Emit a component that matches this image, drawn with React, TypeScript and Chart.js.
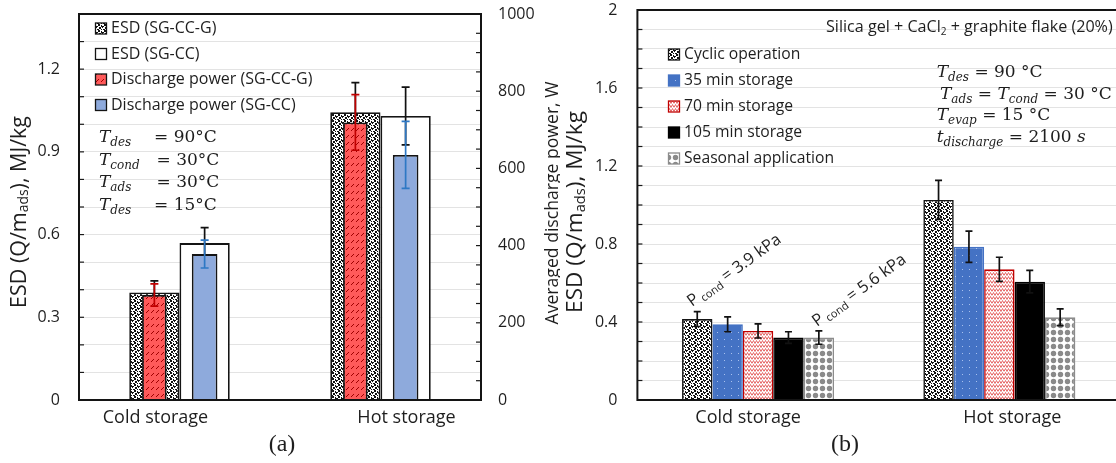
import React, { useEffect, useRef } from 'react';
import { Chart, registerables } from 'chart.js';
Chart.register(...registerables);

// ---------- shared ----------
const categories = ['Cold storage', 'Hot storage'];

// ---------- panel (a) data ----------
const esdSGCCG = [0.39, 1.044];
const esdSGCC = [0.569, 1.03];
const powerSGCCG = [272, 719];
const powerSGCC = [378, 635];
const esdSGCCGErr = [0.042, 0.107];
const esdSGCCErr = [0.056, 0.105];
const powerSGCCGErr = [29, 72];
const powerSGCCErr = [36, 87];
const esdTicksA = ['0', '0.3', '0.6', '0.9', '1.2'];
const powerTicksA = ['0', '200', '400', '600', '800', '1000'];
const condSubsA = ['des', 'cond', 'ads', 'des'];
const condValsA = ['= 90°C', '= 30°C', '= 30°C', '= 15°C'];

// ---------- panel (b) data ----------
const cyclicOp = [0.415, 1.026];
const storage35 = [0.388, 0.786];
const storage70 = [0.354, 0.67];
const storage105 = [0.32, 0.607];
const seasonalApp = [0.32, 0.424];
const cyclicOpErr = [0.038, 0.1];
const storage35Err = [0.038, 0.08];
const storage70Err = [0.036, 0.062];
const storage105Err = [0.03, 0.058];
const seasonalAppErr = [0.034, 0.043];
const esdTicksB = ['0', '0.4', '0.8', '1.2', '1.6', '2'];
const pcondLabels = [' = 3.9 kPa', ' = 5.6 kPa'];
const condRowsB: [string, string][][] = [
  [['T', 'i'], ['des', 's'], [' = 90 °C', 'r']],
  [['T', 'i'], ['ads', 's'], [' = ', 'r'], ['T', 'i'], ['cond', 's'], [' = 30 °C', 'r']],
  [['T', 'i'], ['evap', 's'], [' = 15 °C', 'r']],
  [['t', 'i'], ['discharge', 's'], [' = 2100 ', 'r'], ['s', 'i']],
];

// ---------- styling ----------
const TXT = '#1e1e1e';
const SANS = '"Open Sans"';
const MATH = '"DejaVu Serif"';
const CAPF = '"Liberation Serif"';

const fmt = (v: number) => String(Math.round(v * 1000) / 1000);
const pick = (labels: string[]) => (v: any) => {
  const s = fmt(Number(v));
  return labels.includes(s) ? s : '';
};

type Seg = { t: string; size: number; fam: string; style?: string; dy?: number };
const fontOf = (s: Seg, k = 1) => `${s.style ? s.style + ' ' : ''}${s.size * k}px ${s.fam}`;

function measureSegs(ctx: CanvasRenderingContext2D, segs: Seg[], k = 1) {
  let w = 0;
  segs.forEach((s) => {
    ctx.font = fontOf(s, k);
    w += ctx.measureText(s.t).width;
  });
  return w;
}

function drawRich(ctx: CanvasRenderingContext2D, x: number, y: number, segs: Seg[], align = 'left', target = 0) {
  const k = target ? target / measureSegs(ctx, segs, 1) : 1;
  const w = measureSegs(ctx, segs, k);
  let cx = align === 'center' ? x - w / 2 : align === 'right' ? x - w : x;
  ctx.textAlign = 'left';
  segs.forEach((s) => {
    ctx.font = fontOf(s, k);
    ctx.fillText(s.t, cx, y + (s.dy || 0) * k);
    cx += ctx.measureText(s.t).width;
  });
  return w;
}

function tile(w: number, h: number, draw: (c: CanvasRenderingContext2D) => void) {
  const cv = document.createElement('canvas');
  cv.width = w;
  cv.height = h;
  const c = cv.getContext('2d')!;
  draw(c);
  return c.createPattern(cv, 'repeat')!;
}

function makePatterns() {
  const confetti = tile(6, 6, (c) => {
    c.fillStyle = '#fff';
    c.fillRect(0, 0, 6, 6);
    c.fillStyle = '#111';
    [
      [2, 0, 2, 2], [5, 1, 1, 2], [0, 2, 2, 1], [0, 3, 1, 1],
      [3, 3, 2, 2], [1, 5, 2, 1], [5, 5, 1, 1],
    ].forEach(([x, y, w, h]) => c.fillRect(x, y, w, h));
  });
  const redDash = tile(5, 7, (c) => {
    c.fillStyle = '#ff5a5a';
    c.fillRect(0, 0, 5, 7);
    c.strokeStyle = '#a00000';
    c.lineWidth = 1;
    c.beginPath();
    c.moveTo(1, 5);
    c.lineTo(4, 2);
    c.stroke();
  });
  const blueDots = tile(7, 7, (c) => {
    c.fillStyle = '#4472c4';
    c.fillRect(0, 0, 7, 7);
    c.fillStyle = '#a9c1ee';
    c.fillRect(3, 3, 1, 1);
  });
  const zigzag = tile(6, 4, (c) => {
    c.fillStyle = '#fff';
    c.fillRect(0, 0, 6, 4);
    c.strokeStyle = '#e35a5a';
    c.lineWidth = 0.9;
    c.beginPath();
    c.moveTo(0, 3.5);
    c.lineTo(1.5, 0.5);
    c.lineTo(3, 3.5);
    c.lineTo(4.5, 0.5);
    c.lineTo(6, 3.5);
    c.stroke();
  });
  const grayDots = tile(7, 7, (c) => {
    c.fillStyle = '#fff';
    c.fillRect(0, 0, 7, 7);
    c.fillStyle = '#8a8a8a';
    c.beginPath();
    c.arc(3.5, 3.5, 2.7, 0, Math.PI * 2);
    c.fill();
  });
  return { confetti, redDash, blueDots, zigzag, grayDots };
}

const errorBarPlugin = {
  id: 'errorBars',
  afterDatasetDraw(chart: any, args: any) {
    const ds = chart.data.datasets[args.index];
    if (!ds.errors) return;
    const meta = args.meta;
    const ys = chart.scales[meta.yAxisID];
    const ctx = chart.ctx;
    ctx.save();
    ctx.strokeStyle = ds.errColor;
    ctx.lineWidth = 1.7;
    const cap = ds.errCap || 4;
    meta.data.forEach((bar: any, i: number) => {
      const v = ds.data[i];
      const e = ds.errors[i];
      const x = bar.x;
      const yt = ys.getPixelForValue(v + e);
      const yb = ys.getPixelForValue(v - e);
      ctx.beginPath();
      ctx.moveTo(x, yt);
      ctx.lineTo(x, yb);
      ctx.moveTo(x - cap, yt);
      ctx.lineTo(x + cap, yt);
      ctx.moveTo(x - cap, yb);
      ctx.lineTo(x + cap, yb);
      ctx.stroke();
    });
    ctx.restore();
  },
};

function framePlugin(specs: { id: string; side: string }[]) {
  return {
    id: 'frameTicks',
    afterDatasetsDraw(chart: any) {
      const { ctx, chartArea: a } = chart;
      ctx.save();
      ctx.strokeStyle = '#1a1a1a';
      ctx.lineWidth = 1.2;
      specs.forEach((sp) => {
        const s = chart.scales[sp.id];
        s.ticks.forEach((t: any) => {
          const y = s.getPixelForValue(t.value);
          const x0 = sp.side === 'left' ? a.left : a.right;
          const dir = sp.side === 'left' ? 1 : -1;
          ctx.beginPath();
          ctx.moveTo(x0, y);
          ctx.lineTo(x0 + dir * 5, y);
          ctx.stroke();
        });
      });
      ctx.lineWidth = 2;
      ctx.strokeStyle = '#141414';
      ctx.strokeRect(a.left, a.top, a.right - a.left, a.bottom - a.top);
      ctx.restore();
    },
  };
}

function drawLegend(ctx: any, chart: any, x: number, y0: number, step: number, tx: number, size: number) {
  chart.data.datasets.forEach((ds: any, i: number) => {
    const y = y0 + i * step;
    ctx.fillStyle = ds.backgroundColor;
    ctx.fillRect(x, y - 5.5, 11, 11);
    ctx.strokeStyle = ds.legendBorder || ds.borderColor;
    ctx.lineWidth = 1.3;
    ctx.strokeRect(x, y - 5.5, 11, 11);
    ctx.fillStyle = TXT;
    ctx.font = `${size}px ${SANS}`;
    ctx.textAlign = 'left';
    ctx.textBaseline = 'middle';
    ctx.fillText(ds.label, tx, y);
  });
}

function drawCategoryLabels(ctx: any, chart: any, shifts: number[], y: number) {
  const xs = chart.scales.x;
  ctx.fillStyle = TXT;
  ctx.font = `18px ${SANS}`;
  ctx.textAlign = 'center';
  ctx.textBaseline = 'alphabetic';
  categories.forEach((c, i) => {
    ctx.fillText(c, xs.getPixelForValue(i) + shifts[i], y);
  });
}

function drawRotated(ctx: any, x: number, y: number, segs: Seg[], target: number) {
  ctx.save();
  ctx.translate(x, y);
  ctx.rotate(-Math.PI / 2);
  ctx.textBaseline = 'middle';
  drawRich(ctx, 0, 0, segs, 'center', target);
  ctx.restore();
}

const esdTitle: Seg[] = [
  { t: 'ESD (Q/m', size: 20, fam: SANS },
  { t: 'ads', size: 13, fam: SANS, dy: 4 },
  { t: '), MJ/kg', size: 20, fam: SANS },
];

const decorA = {
  id: 'decorA',
  afterDraw(chart: any) {
    const ctx = chart.ctx;
    ctx.save();
    drawLegend(ctx, chart, 95.5, 28.5, 25.5, 111, 16);
    ctx.fillStyle = TXT;
    ctx.textBaseline = 'alphabetic';
    const eqX = [154, 156.5, 156.5, 154];
    condSubsA.forEach((sub, i) => {
      const y = 142 + i * 22.5;
      drawRich(ctx, 99, y, [
        { t: 'T', size: 17, fam: MATH, style: 'italic' },
        { t: sub, size: 12, fam: MATH, style: 'italic', dy: 4 },
      ]);
      drawRich(ctx, eqX[i], y, [{ t: condValsA[i], size: 17, fam: MATH }]);
    });
    drawCategoryLabels(ctx, chart, [-24, 26], 423);
    ctx.fillStyle = TXT;
    drawRotated(ctx, 20, 212, esdTitle, 192);
    drawRotated(ctx, 553, 203, [{ t: 'Averaged discharge power, W', size: 18, fam: SANS }], 243);
    ctx.textBaseline = 'middle';
    drawRich(ctx, 282, 445, [{ t: '(a)', size: 24, fam: CAPF }], 'center');
    ctx.restore();
  },
};

const decorB = {
  id: 'decorB',
  afterDraw(chart: any) {
    const ctx = chart.ctx;
    ctx.save();
    ctx.fillStyle = TXT;
    ctx.textBaseline = 'alphabetic';
    drawRich(
      ctx,
      266,
      32,
      [
        { t: 'Silica gel + CaCl', size: 16, fam: SANS },
        { t: '2', size: 10, fam: SANS, dy: 3 },
        { t: ' + graphite flake (20%)', size: 16, fam: SANS },
      ],
      'left',
      287
    );
    drawLegend(ctx, chart, 108.5, 54.5, 26, 124, 15.7);
    ctx.fillStyle = TXT;
    ctx.textBaseline = 'alphabetic';
    const rowX = [376.7, 380, 376.7, 376.7];
    condRowsB.forEach((row, i) => {
      const segs: Seg[] = row.map(([t, k]) =>
        k === 'i'
          ? { t, size: 17, fam: MATH, style: 'italic' }
          : k === 's'
          ? { t, size: 12, fam: MATH, style: 'italic', dy: 4 }
          : { t, size: 17, fam: MATH }
      );
      drawRich(ctx, rowX[i], 77 + i * 21.5, segs);
    });
    const anchors = [
      [132, 307],
      [257, 327],
    ];
    anchors.forEach(([x, y], i) => {
      ctx.save();
      ctx.translate(x, y);
      ctx.rotate((-36 * Math.PI) / 180);
      drawRich(ctx, 0, 0, [
        { t: 'P', size: 16.5, fam: SANS },
        { t: ' cond', size: 11, fam: SANS, dy: 3 },
        { t: pcondLabels[i], size: 16.5, fam: SANS },
      ]);
      ctx.restore();
    });
    drawCategoryLabels(ctx, chart, [-10, 13], 423);
    ctx.fillStyle = TXT;
    drawRotated(ctx, 16, 212, esdTitle, 202);
    ctx.textBaseline = 'middle';
    drawRich(ctx, 285, 445, [{ t: '(b)', size: 24, fam: CAPF }], 'center');
    ctx.restore();
  },
};

const tickFont = { family: 'Open Sans', size: 16 };
const noPad = (w: number) => (s: any) => {
  s.width = w;
  s.paddingTop = 0;
  s.paddingBottom = 0;
};

function configA(p: any): any {
  const common = { barPercentage: 1, categoryPercentage: 0.5, borderColor: '#141414', borderWidth: 1.8, errCap: 4 };
  return {
    type: 'bar',
    data: {
      labels: categories,
      datasets: [
        { ...common, label: 'ESD (SG-CC-G)', data: esdSGCCG, errors: esdSGCCGErr, errColor: '#111', yAxisID: 'y', stack: 'g', order: 2, backgroundColor: p.confetti },
        { ...common, label: 'ESD (SG-CC)', data: esdSGCC, errors: esdSGCCErr, errColor: '#111', yAxisID: 'y', stack: 'c', order: 2, backgroundColor: '#ffffff' },
        { ...common, label: 'Discharge power (SG-CC-G)', data: powerSGCCG, errors: powerSGCCGErr, errColor: '#c00000', yAxisID: 'y1', stack: 'g', order: 1, barPercentage: 0.49, backgroundColor: p.redDash },
        { ...common, label: 'Discharge power (SG-CC)', data: powerSGCC, errors: powerSGCCErr, errColor: '#2e78c4', yAxisID: 'y1', stack: 'c', order: 1, barPercentage: 0.51, backgroundColor: '#8eaadc' },
      ],
    },
    options: {
      responsive: false,
      animation: false,
      layout: { padding: { top: 14, left: 0, right: 0, bottom: 0 } },
      plugins: { legend: { display: false }, tooltip: { enabled: false } },
      scales: {
        x: {
          offset: true,
          grid: { display: false },
          border: { display: false },
          ticks: { display: false },
          afterFit: (s: any) => { s.height = 63; },
        },
        y: {
          position: 'left',
          min: 0,
          max: 1.4,
          stacked: false,
          grid: { color: '#e3e3e3', drawTicks: false, lineWidth: 1 },
          border: { display: false },
          ticks: { stepSize: 0.1, autoSkip: false, padding: 19, color: TXT, font: tickFont, callback: pick(esdTicksA) },
          afterFit: noPad(79),
        },
        y1: {
          position: 'right',
          min: 0,
          max: 1000,
          stacked: false,
          grid: { drawOnChartArea: false, drawTicks: false },
          border: { display: false },
          ticks: { stepSize: 50, autoSkip: false, padding: 17, color: TXT, font: tickFont, callback: pick(powerTicksA) },
          afterFit: noPad(79),
        },
      },
    },
    plugins: [errorBarPlugin, framePlugin([{ id: 'y', side: 'left' }, { id: 'y1', side: 'right' }]), decorA],
  };
}

function configB(p: any): any {
  const common = { barPercentage: 1, categoryPercentage: 0.63, borderWidth: 1.6, errColor: '#111', errCap: 3.5 };
  return {
    type: 'bar',
    data: {
      labels: categories,
      datasets: [
        { ...common, label: 'Cyclic operation', data: cyclicOp, errors: cyclicOpErr, backgroundColor: p.confetti, borderColor: '#141414' },
        { ...common, label: '35 min storage', data: storage35, errors: storage35Err, backgroundColor: p.blueDots, borderColor: '#4472c4' },
        { ...common, label: '70 min storage', data: storage70, errors: storage70Err, backgroundColor: p.zigzag, borderColor: '#c00000' },
        { ...common, label: '105 min storage', data: storage105, errors: storage105Err, backgroundColor: '#000000', borderColor: '#000000' },
        { ...common, label: 'Seasonal application', data: seasonalApp, errors: seasonalAppErr, backgroundColor: p.grayDots, borderColor: '#8c8c8c' },
      ],
    },
    options: {
      responsive: false,
      animation: false,
      layout: { padding: { top: 10, left: 0, right: 40, bottom: 0 } },
      plugins: { legend: { display: false }, tooltip: { enabled: false } },
      scales: {
        x: {
          offset: true,
          grid: { display: false },
          border: { display: false },
          ticks: { display: false },
          afterFit: (s: any) => { s.height = 63; },
        },
        y: {
          position: 'left',
          min: 0,
          max: 2,
          grid: { color: '#e3e3e3', drawTicks: false, lineWidth: 1 },
          border: { display: false },
          ticks: { stepSize: 0.1, autoSkip: false, padding: 20, color: TXT, font: tickFont, callback: pick(esdTicksB) },
          afterFit: noPad(77.4),
        },
      },
    },
    plugins: [errorBarPlugin, framePlugin([{ id: 'y', side: 'left' }]), decorB],
  };
}

export default function App() {
  const refA = useRef<HTMLCanvasElement>(null);
  const refB = useRef<HTMLCanvasElement>(null);
  useEffect(() => {
    const pats = makePatterns();
    const ca = new Chart(refA.current!, configA(pats));
    const cb = new Chart(refB.current!, configB(pats));
    return () => {
      ca.destroy();
      cb.destroy();
    };
  }, []);
  return (
    <div style={{ position: 'fixed', left: 0, top: 0, width: 1116, height: 463, overflow: 'hidden', background: '#fff' }}>
      <canvas ref={refA} width={560} height={463} style={{ position: 'absolute', left: 0, top: 0 }} />
      <canvas ref={refB} width={600} height={463} style={{ position: 'absolute', left: 560, top: 0 }} />
    </div>
  );
}
